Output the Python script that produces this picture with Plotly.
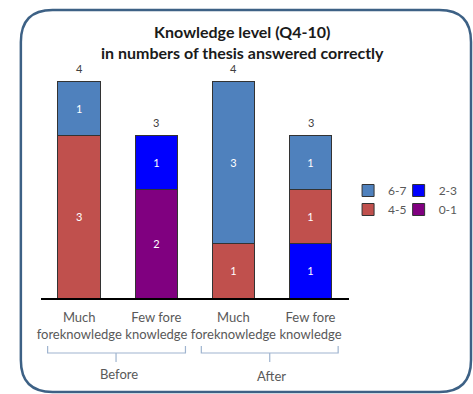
import plotly.graph_objects as go

# ---- data ----
categories = ["Much<br>foreknowledge", "Few fore<br>knowledge", "Much<br>foreknowledge", "Few fore<br>knowledge"]
groups = ["Before", "After"]
series_names = ["0-1", "2-3", "4-5", "6-7"]          # stacked bottom -> top
vals_0_1 = [0, 2, 0, 0]
vals_2_3 = [0, 1, 0, 1]
vals_4_5 = [3, 0, 1, 1]
vals_6_7 = [1, 0, 3, 1]
series_vals = [vals_0_1, vals_2_3, vals_4_5, vals_6_7]
colors = ["#800080", "#0000ff", "#c0504d", "#4f81bd"]
legend_rank = [2, 1, 2, 1]
legend_slot = ["legend2", "legend2", "legend", "legend"]
title_lines = ["Knowledge level (Q4-10)", "in numbers of thesis answered correctly"]

W, H = 473, 394
def px(x):
    return x / W
def py(y):
    return 1 - y / H

xs = list(range(len(categories)))
fig = go.Figure()
for name, vals, col, rk, lg in zip(series_names, series_vals, colors, legend_rank, legend_slot):
    fig.add_trace(go.Bar(
        x=xs, y=vals, name=name,
        marker=dict(color=col, line=dict(color="#333333", width=1)),
        text=[str(v) if v else "" for v in vals],
        textposition="inside", insidetextanchor="middle",
        textfont=dict(color="white", size=11, family="Lato"),
        legendrank=rk, legend=lg,
    ))

totals = [sum(s[i] for s in series_vals) for i in xs]

shapes = []
# rounded border
x0, x1, y0, y1, r = 17, 471, 10, 392, 32
path = (f"M {px(x0+r)},{py(y0)} L {px(x1-r)},{py(y0)} Q {px(x1)},{py(y0)} {px(x1)},{py(y0+r)} "
        f"L {px(x1)},{py(y1-r)} Q {px(x1)},{py(y1)} {px(x1-r)},{py(y1)} "
        f"L {px(x0+r)},{py(y1)} Q {px(x0)},{py(y1)} {px(x0)},{py(y1-r)} "
        f"L {px(x0)},{py(y0+r)} Q {px(x0)},{py(y0)} {px(x0+r)},{py(y0)} Z")
shapes.append(dict(type="path", xref="paper", yref="paper", path=path,
                   line=dict(color="#3d6185", width=2.5)))

# group brackets
brackets = [(44, 183, 113), (199, 337, 268)]
for bx0, bx1, bc in brackets:
    p = (f"M {px(bx0)},{py(346)} L {px(bx0)},{py(353)} L {px(bx1)},{py(353)} L {px(bx1)},{py(346)} "
         f"M {px(bc)},{py(353)} L {px(bc)},{py(362)}")
    shapes.append(dict(type="path", xref="paper", yref="paper", path=p,
                       line=dict(color="#9fb4cf", width=1.2)))

annotations = [
    dict(text=f"<b>{title_lines[0]}</b><br><b>{title_lines[1]}</b>", x=px(241), y=py(42),
         xref="paper", yref="paper", showarrow=False, xanchor="center", yanchor="middle",
         font=dict(family="Lato", size=16, color="#1a1a1a")),
]
for xi, t in zip(xs, totals):
    annotations.append(dict(text=str(t), x=xi, y=t, xref="x", yref="y", showarrow=False,
                            xanchor="center", yanchor="bottom", yshift=4,
                            font=dict(family="Lato", size=11, color="#404040")))
group_pos = [(116, 374), (270, 376)]
for g, (gx, gy) in zip(groups, group_pos):
    annotations.append(dict(text=g, x=px(gx), y=py(gy), xref="paper", yref="paper",
                            showarrow=False, xanchor="center", yanchor="middle",
                            font=dict(family="Lato", size=13, color="#595959")))

legend_common = dict(yanchor="top", xanchor="left", traceorder="normal",
                     font=dict(family="Lato", size=12, color="#595959"),
                     bgcolor="rgba(0,0,0,0)", itemwidth=30, tracegroupgap=0)

fig.update_layout(
    width=W, height=H, autosize=False,
    margin=dict(l=0, r=0, t=0, b=0),
    paper_bgcolor="white", plot_bgcolor="white",
    barmode="stack", bargap=0.447,
    xaxis=dict(domain=[px(37), px(348)], range=[-0.5, 3.5], tickmode="array",
               tickvals=xs, ticktext=categories, showline=True, linecolor="black",
               linewidth=2, ticks="", showgrid=False, zeroline=False,
               ticklabelstandoff=6,
               tickfont=dict(family="Lato", size=13, color="#595959")),
    yaxis=dict(domain=[py(298), py(81)], range=[0, 4], visible=False),
    legend=dict(x=px(347), y=py(176), **legend_common),
    legend2=dict(x=px(398), y=py(176), **legend_common),
    shapes=shapes, annotations=annotations,
    showlegend=True,
)

fig.write_html("out.html")
